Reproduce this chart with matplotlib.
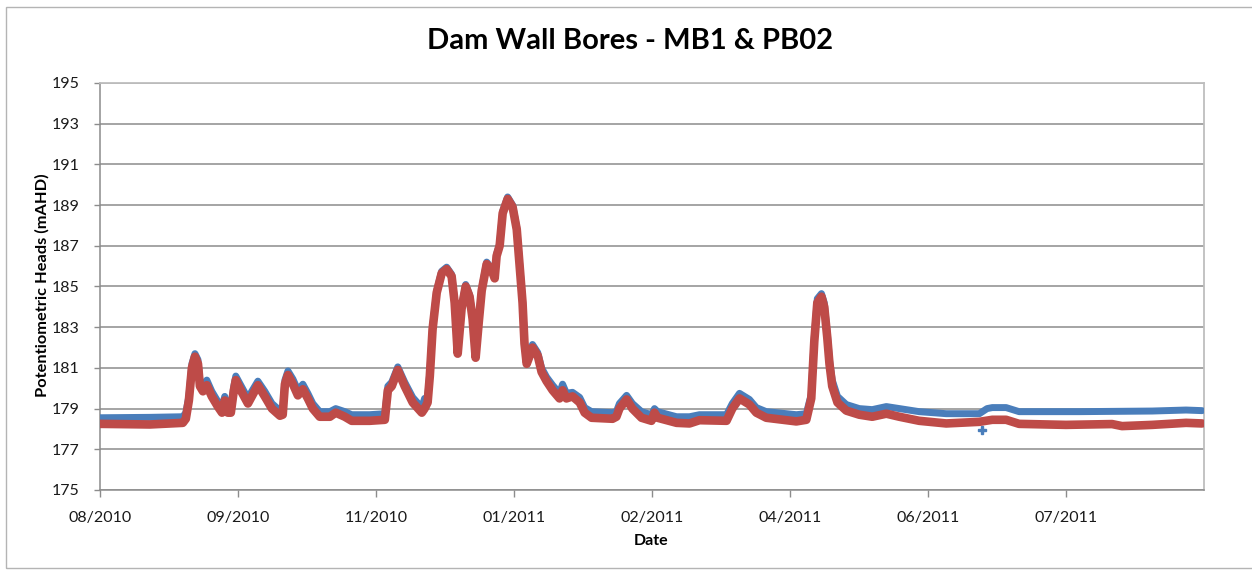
import datetime as dt
import matplotlib
matplotlib.use('Agg')
import matplotlib.pyplot as plt
import matplotlib.dates as mdates
from matplotlib.patches import Rectangle

# chart data: days after 10 Aug 2010 and heads in mAHD
start = dt.datetime(2010, 8, 10)

red_days = [0, 18.1, 30.0, 31.1, 32.2, 33.3, 34.4, 35.5, 36.2, 37.3, 38.7, 40.5,
            42.7, 44.2, 45.2, 46.3, 47.4, 48.5, 49.2, 51.4, 53.6, 55.0, 57.2, 59.7,
            62.3, 65.2, 66.2, 67.0, 68.1, 69.9, 71.7, 73.5, 75.3, 77.1, 79.6, 83.3,
            85.4, 88.7, 91.2, 97.7, 103.2, 104.3, 105.7, 107.9, 110.4, 113.3, 116.6,
            117.6, 118.7, 119.5, 120.5, 122.0, 123.8, 125.6, 127.4, 128.5, 129.6,
            131.0, 132.5, 133.9, 135.0, 136.1, 137.2, 138.3, 140.1, 141.9, 143.0,
            143.7, 144.8, 145.9, 147.7, 149.5, 151.0, 152.0, 153.1, 153.8, 154.6,
            155.7, 156.7, 158.6, 160.0, 161.8, 164.0, 166.5, 167.6, 169.0, 171.2,
            173.8, 175.6, 178.1, 185.7, 187.1, 188.2, 190.8, 192.9, 196.2, 199.8,
            200.9, 202.0, 208.9, 213.6, 217.2, 227.0, 229.1, 231.7, 235.3, 237.8,
            241.4, 248.7, 252.3, 255.9, 257.7, 258.8, 259.9, 261.4, 262.4, 263.5,
            264.3, 265.3, 267.2, 270.4, 275.1, 279.8, 284.9, 289.6, 296.8, 306.6,
            318.6, 323.3, 328.3, 333.0, 350.0, 366.7, 370.3, 381.2, 393.5, 399.3]
red_vals = [178.25, 178.22, 178.3, 178.5, 179.4, 181.0, 181.55, 181.2, 180.1, 179.85,
            180.15, 179.6, 179.1, 178.8, 179.4, 178.8, 178.8, 179.9, 180.4, 179.8,
            179.25, 179.6, 180.15, 179.6, 179.0, 178.65, 178.7, 180.2, 180.65, 180.2,
            179.65, 179.95, 179.5, 179.0, 178.6, 178.6, 178.8, 178.6, 178.4, 178.4,
            178.45, 179.9, 180.1, 180.9, 180.1, 179.3, 178.8, 179.0, 179.3, 180.6,
            182.9, 184.7, 185.65, 185.85, 185.5, 184.2, 181.7, 183.9, 185.0, 184.5,
            183.4, 181.5, 183.2, 184.8, 186.1, 185.8, 185.4, 186.5, 187.0, 188.6,
            189.3, 188.9, 187.8, 186.1, 184.2, 182.2, 181.2, 181.6, 182.0, 181.6,
            180.8, 180.35, 179.9, 179.5, 179.9, 179.5, 179.6, 179.3, 178.8, 178.55,
            178.5, 178.6, 179.0, 179.45, 179.0, 178.55, 178.4, 178.8, 178.55, 178.3,
            178.27, 178.43, 178.4, 179.0, 179.5, 179.2, 178.8, 178.55, 178.43, 178.37,
            178.45, 179.5, 182.3, 184.2, 184.5, 184.0, 182.5, 181.2, 180.1, 179.3,
            178.9, 178.7, 178.6, 178.75, 178.6, 178.4, 178.27, 178.35, 178.45, 178.45,
            178.25, 178.2, 178.24, 178.14, 178.2, 178.3, 178.27]

blue_days = [0, 18.1, 30.0, 31.1, 32.2, 33.3, 34.4, 35.5, 36.2, 37.3, 38.7, 40.5,
             42.7, 44.2, 45.2, 46.3, 47.4, 48.5, 49.2, 51.4, 53.6, 55.0, 57.2, 59.7,
             62.3, 65.2, 66.2, 67.0, 68.1, 69.9, 71.7, 73.5, 75.3, 77.1, 79.6, 83.3,
             85.4, 88.7, 91.2, 97.7, 103.2, 104.3, 105.7, 107.9, 110.4, 113.3, 116.6,
             117.6, 118.7, 119.5, 120.5, 122.0, 123.8, 125.6, 127.4, 128.5, 129.6,
             131.0, 132.5, 133.9, 135.0, 136.1, 137.2, 138.3, 140.1, 141.9, 143.0,
             143.7, 144.8, 145.9, 147.7, 149.5, 151.0, 152.0, 153.1, 153.8, 154.6,
             155.7, 156.7, 158.6, 160.0, 161.8, 164.0, 166.5, 167.6, 169.0, 171.2,
             173.8, 175.6, 178.1, 185.7, 187.1, 188.2, 190.8, 192.9, 196.2, 199.8,
             200.9, 202.0, 208.9, 213.6, 217.2, 227.0, 229.1, 231.7, 235.3, 237.8,
             241.4, 248.7, 252.3, 255.9, 257.7, 258.8, 259.9, 261.4, 262.4, 263.5,
             264.3, 265.3, 267.2, 270.4, 275.1, 279.8, 284.9, 289.6, 296.8, 306.6,
             318.6, 321.4, 323.3, 328.3, 333.0, 354.8, 381.2, 393.5, 399.3]
blue_vals = [178.55, 178.57, 178.6, 178.8, 179.6, 181.2, 181.7, 181.4, 180.35, 180.1,
             180.4, 179.85, 179.35, 179.05, 179.6, 179.05, 179.05, 180.1, 180.6, 180.05,
             179.5, 179.85, 180.35, 179.85, 179.25, 178.9, 178.95, 180.4, 180.85, 180.45,
             179.9, 180.2, 179.75, 179.25, 178.85, 178.85, 179.0, 178.85, 178.7, 178.7,
             178.75, 180.1, 180.3, 181.05, 180.3, 179.55, 179.05, 179.5, 179.5, 180.8,
             183.0, 184.8, 185.75, 185.95, 185.6, 184.3, 181.8, 184.0, 185.1, 184.6,
             183.5, 181.6, 183.3, 184.9, 186.2, 185.9, 185.5, 186.6, 187.1, 188.7,
             189.4, 189.0, 187.9, 186.2, 184.3, 182.3, 181.3, 181.7, 182.15, 181.75,
             181.0, 180.55, 180.15, 179.75, 180.2, 179.75, 179.8, 179.55, 179.05, 178.85,
             178.8, 178.85, 179.25, 179.65, 179.25, 178.85, 178.7, 179.0, 178.85, 178.6,
             178.6, 178.7, 178.7, 179.25, 179.75, 179.45, 179.05, 178.85, 178.75, 178.7,
             178.75, 179.7, 182.5, 184.4, 184.65, 184.2, 182.7, 181.4, 180.4, 179.6,
             179.2, 179.0, 178.95, 179.1, 179.0, 178.85, 178.75, 178.75, 179.0, 179.05,
             179.05, 178.85, 178.85, 178.88, 178.93, 178.9]
blue_outlier_days = [319.6]
blue_outlier_vals = [177.95]

y_ticks = [175, 177, 179, 181, 183, 185, 187, 189, 191, 193, 195]

BLUE = '#4A7EBB'
RED = '#BE4B48'
GRID = '#8C8C8C'
FONT = 'Lato'


def to_dates(days):
    return [start + dt.timedelta(days=d) for d in days]


fig = plt.figure(figsize=(12.52, 5.70), dpi=100)
ax = fig.add_axes([100 / 1252, 1 - 490 / 570, 1104 / 1252, 407 / 570])

# outer chart frame
fig.patches.append(Rectangle((6 / 1252, 2 / 570), 1.1, 561 / 570, transform=fig.transFigure,
                             fill=False, edgecolor='#B4B4B4', linewidth=1.0))

ax.plot(to_dates(blue_days), blue_vals, color=BLUE, linewidth=5.0,
        solid_joinstyle='round', solid_capstyle='round', zorder=3)
ax.plot(to_dates(blue_outlier_days), blue_outlier_vals, linestyle='none', marker='P',
        markersize=6, color=BLUE, zorder=3)
ax.plot(to_dates(red_days), red_vals, color=RED, linewidth=6.2,
        solid_joinstyle='round', solid_capstyle='round', zorder=4)

# axes in Excel style
ax.set_ylim(175, 195)
ax.set_yticks(y_ticks)
x0 = start
x1 = start + dt.timedelta(days=400)
ax.set_xlim(x0, x1)
ax.set_xticks([start + dt.timedelta(days=50 * i) for i in range(8)])
ax.xaxis.set_major_formatter(mdates.DateFormatter('%m/%Y'))
ax.grid(True, axis='y', color=GRID, linewidth=1.1, zorder=1)
for side in ['left', 'bottom']:
    ax.spines[side].set_color(GRID)
    ax.spines[side].set_linewidth(1.1)
for side in ['top', 'right']:
    ax.spines[side].set_color('#BEBEBE')
    ax.spines[side].set_linewidth(1.3)
ax.tick_params(axis='x', direction='out', length=5, width=1, color=GRID, pad=10,
               labelsize=11.5, labelcolor='#1A1A1A')
ax.tick_params(axis='y', direction='out', length=4, width=1, color=GRID, pad=11,
               labelsize=11.5, labelcolor='#1A1A1A')
for lab in ax.get_xticklabels() + ax.get_yticklabels():
    lab.set_family(FONT)

fig.text(630 / 1252, 1 - 41 / 570, 'Dam Wall Bores - MB1 & PB02', ha='center', va='center',
         fontsize=21, fontweight='bold', family=FONT, color='#000000')
fig.text(42 / 1252, 1 - 285 / 570, 'Potentiometric Heads (mAHD)', ha='center', va='center',
         rotation=90, fontsize=11.8, fontweight='bold', family=FONT, color='#000000')
fig.text(651 / 1252, 1 - 541 / 570, 'Date', ha='center', va='center',
         fontsize=11.5, fontweight='bold', family=FONT, color='#000000')

fig.savefig('out.png', dpi=100)
